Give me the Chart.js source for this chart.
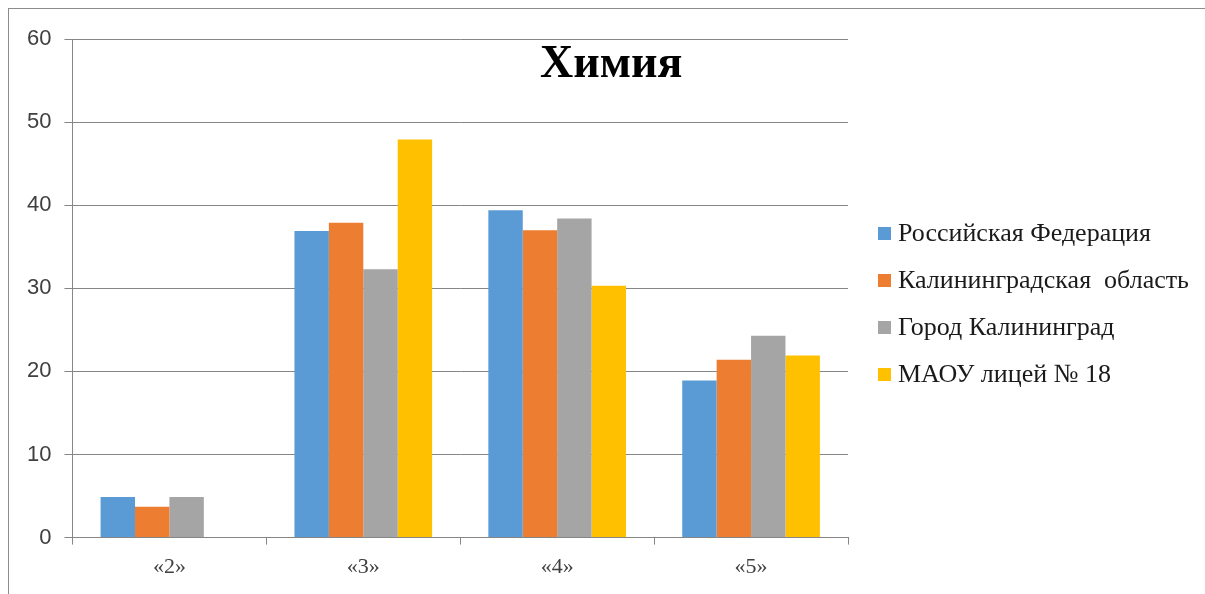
<!DOCTYPE html>
<html>
<head>
<meta charset="utf-8">
<script src="https://cdn.jsdelivr.net/npm/chart.js@4"></script>
<style>
  body { margin: 0; background: #fff; overflow: hidden; }
  #wrap { position: relative; width: 1205px; height: 594px; overflow: hidden; }
  #frame { position: absolute; left: 8px; top: 8px; width: 1400px; height: 800px; border: 1px solid #8c8c8c; box-sizing: border-box; }
  #chart { position: absolute; left: 0; top: 0; }
  #title { position: absolute; left: 540px; top: 35px; font: bold 46px "Liberation Serif", "Times New Roman", serif; color: #000; }
  #legend { position: absolute; left: 878px; top: 217px; font: 26px "Liberation Serif", "Times New Roman", serif; color: #1a1a1a; }
  #legend div { height: 47px; line-height: 32px; white-space: pre; display: flex; align-items: center; height: 32px; margin-bottom: 15px; }
  #legend span.box { display: inline-block; width: 13px; height: 13px; margin-right: 7px; }
</style>
</head>
<body>
<div id="wrap">
  <div id="frame"></div>
  <canvas id="chart" width="1205" height="594"></canvas>
  <div id="title">Химия</div>
  <div id="legend"></div>
</div>
<script>
// оценки по химии, % участников
let categories = ["«2»", "«3»", "«4»", "«5»"];
let seriesNames = ["Российская Федерация", "Калининградская  область", "Город Калининград", "МАОУ лицей № 18"];
let rf = [4.9, 36.9, 39.4, 18.9];
let oblast = [3.7, 37.9, 37.0, 21.4];
let gorod = [4.9, 32.3, 38.4, 24.3];
let licey = [0, 47.9, 30.3, 21.9];
let yTicks = [0, 10, 20, 30, 40, 50, 60];

let colors = ["#5B9BD5", "#ED7D31", "#A5A5A5", "#FFC000"];
let values = [rf, oblast, gorod, licey];
let serif = "'Liberation Serif', 'Times New Roman', serif";
let sans = "'Liberation Sans', Arial, sans-serif";

// легенда справа - html, у chart.js она не влезает по ширине
let leg = document.getElementById('legend');
seriesNames.forEach((name, i) => {
    let row = document.createElement('div');
    let box = document.createElement('span');
    box.className = 'box';
    box.style.background = colors[i];
    row.appendChild(box);
    row.appendChild(document.createTextNode(name));
    leg.appendChild(row);
});

let ctx = document.getElementById('chart');
new Chart(ctx, {
    type: 'bar',
    data: {
        labels: categories,
        datasets: seriesNames.map((name, i) => ({
            label: name,
            data: values[i],
            backgroundColor: colors[i],
            categoryPercentage: 0.71,
            barPercentage: 1
        }))
    },
    options: {
        responsive: false,
        animation: false,
        layout: { padding: { left: 14, top: 39, right: 357, bottom: 5 } },
        plugins: {
            title: { display: false },
            tooltip: { enabled: false },
            legend: { display: false }
        },
        scales: {
            x: {
                grid: { display: true, drawOnChartArea: false, color: '#868686', tickLength: 7, offset: true },
                border: { color: '#868686' },
                ticks: { font: { family: serif, size: 22 }, color: '#404040', padding: 9 }
            },
            y: {
                min: 0, max: 60,
                afterBuildTicks: axis => { axis.ticks = yTicks.map(v => ({ value: v })); },
                grid: { color: '#868686', tickLength: 8 },
                border: { color: '#868686' },
                ticks: { font: { family: sans, size: 22 }, color: '#404040', padding: 13 }
            }
        }
    }
});
</script>
</body>
</html>
